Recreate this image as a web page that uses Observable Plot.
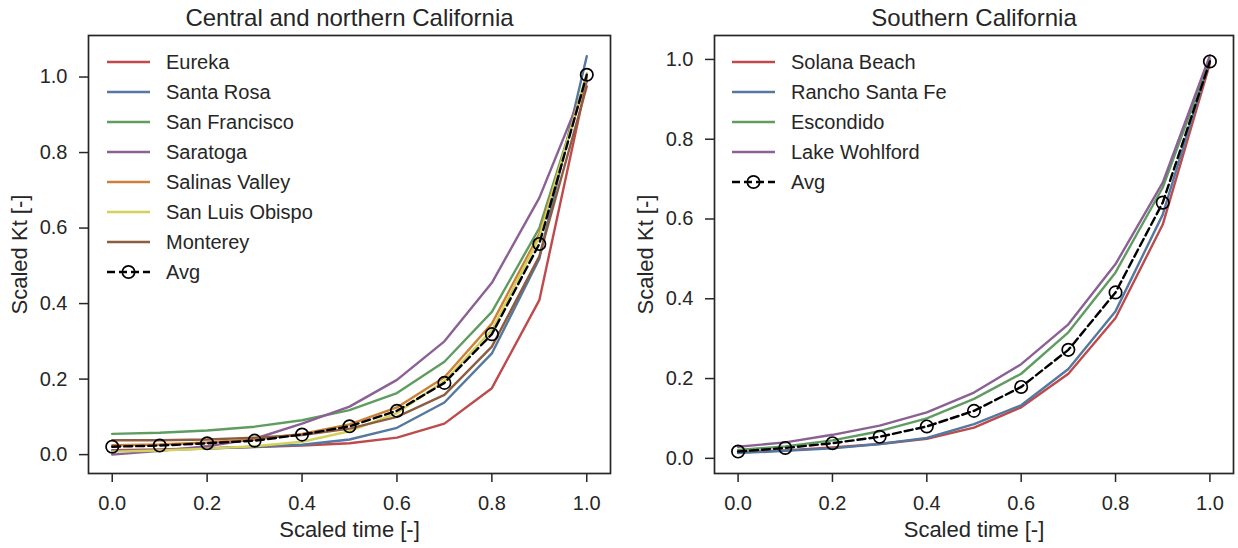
<!DOCTYPE html>
<html>
<head>
<meta charset="utf-8">
<script src="https://cdn.jsdelivr.net/npm/d3@7"></script>
<script src="https://cdn.jsdelivr.net/npm/@observablehq/plot@0.6"></script>
<style>
  body { margin: 0; background: #fff; }
  #wrap { position: relative; width: 1238px; height: 548px; display: flex; font-family: "Liberation Sans", Arial, sans-serif; color: #262626; }
  .panel { position: relative; width: 619px; height: 548px; }
  .legend { position: absolute; top: 47px; font-size: 20px; line-height: 30px; }
  .legend .row { display: flex; align-items: center; height: 30px; }
  .legend svg { display: block; margin-right: 15px; }
  [aria-label="x-axis label"], [aria-label="y-axis label"] { font-size: 22px; }
</style>
</head>
<body>
<div id="wrap">
  <div class="panel" id="p1"></div>
  <div class="panel" id="p2"></div>
</div>
<script>
// Scaled time samples
const scaledTime = [0, 0.1, 0.2, 0.3, 0.4, 0.5, 0.6, 0.7, 0.8, 0.9, 1.0];
const tickValues = [0, 0.2, 0.4, 0.6, 0.8, 1.0];

// Central and northern California
const northTitle = "Central and northern California";
const northNames = ["Eureka", "Santa Rosa", "San Francisco", "Saratoga", "Salinas Valley", "San Luis Obispo", "Monterey"];
const northColors = ["#bf4a4c", "#54789f", "#5f9c60", "#8b6094", "#cc8038", "#d3d15a", "#8d5d41"];
const eureka        = [0.012, 0.014, 0.017, 0.020, 0.024, 0.030, 0.045, 0.082, 0.176, 0.409, 0.990];
const santaRosa     = [0.010, 0.012, 0.016, 0.021, 0.026, 0.040, 0.071, 0.138, 0.268, 0.519, 1.055];
const sanFrancisco  = [0.055, 0.058, 0.064, 0.074, 0.091, 0.118, 0.163, 0.246, 0.378, 0.600, 1.000];
const saratoga      = [0.000, 0.010, 0.022, 0.042, 0.082, 0.127, 0.198, 0.300, 0.455, 0.680, 0.990];
const salinasValley = [0.025, 0.027, 0.032, 0.040, 0.055, 0.080, 0.125, 0.205, 0.347, 0.585, 1.000];
const sanLuisObispo = [0.008, 0.011, 0.016, 0.022, 0.034, 0.062, 0.110, 0.195, 0.330, 0.575, 1.010];
const monterey      = [0.038, 0.038, 0.040, 0.045, 0.052, 0.069, 0.100, 0.158, 0.286, 0.525, 0.975];
const northAvg      = [0.021, 0.024, 0.030, 0.037, 0.053, 0.075, 0.116, 0.190, 0.319, 0.558, 1.006];
const northSeries = [eureka, santaRosa, sanFrancisco, saratoga, salinasValley, sanLuisObispo, monterey];

// Southern California
const southTitle = "Southern California";
const southNames = ["Solana Beach", "Rancho Santa Fe", "Escondido", "Lake Wohlford"];
const southColors = ["#bf4a4c", "#54789f", "#5f9c60", "#8b6094"];
const solanaBeach   = [0.015, 0.020, 0.027, 0.036, 0.049, 0.077, 0.128, 0.212, 0.352, 0.586, 0.990];
const ranchoSantaFe = [0.013, 0.019, 0.025, 0.036, 0.051, 0.086, 0.133, 0.224, 0.369, 0.611, 1.000];
const escondido     = [0.021, 0.030, 0.045, 0.068, 0.100, 0.149, 0.212, 0.316, 0.466, 0.679, 1.000];
const lakeWohlford  = [0.029, 0.040, 0.059, 0.082, 0.115, 0.165, 0.236, 0.336, 0.487, 0.691, 1.010];
const southAvg      = [0.017, 0.026, 0.038, 0.054, 0.080, 0.119, 0.179, 0.272, 0.416, 0.641, 0.995];
const southSeries = [solanaBeach, ranchoSantaFe, escondido, lakeWohlford];

const avgLabel = "Avg";
const xLabel = "Scaled time [-]";
const yLabel = "Scaled Kt [-]";
const ink = "#262626";
const lineW = 2.4;
const dash = "8,4";

function makePanel({title, names, colors, series, avg, yDomain, marginLeft, marginRight}) {
  const rows = series.flatMap((vals, k) => vals.map((v, i) => ({t: scaledTime[i], v, name: names[k]})));
  const avgRows = avg.map((v, i) => ({t: scaledTime[i], v}));
  return Plot.plot({
    width: 619,
    height: 548,
    marginLeft,
    marginRight,
    marginTop: 35,
    marginBottom: 75,
    style: {fontFamily: '"Liberation Sans", Arial, sans-serif', color: ink, background: "white", overflow: "visible"},
    x: {domain: [-0.05, 1.05]},
    y: {domain: yDomain},
    color: {domain: names, range: colors},
    marks: [
      Plot.axisX({ticks: tickValues, tickFormat: d3.format(".1f"), tickSize: 9, tickPadding: 13, fontSize: 20,
        strokeWidth: 1.5, label: xLabel, labelAnchor: "center", labelArrow: "none", labelOffset: 63}),
      Plot.axisY({ticks: tickValues, tickFormat: d3.format(".1f"), tickSize: 9, tickPadding: 12, fontSize: 20,
        strokeWidth: 1.5, label: yLabel, labelAnchor: "center", labelArrow: "none", labelOffset: 77}),
      Plot.line(rows, {x: "t", y: "v", z: "name", stroke: "name", strokeWidth: lineW}),
      Plot.line(avgRows, {x: "t", y: "v", stroke: "black", strokeWidth: lineW, strokeDasharray: dash}),
      Plot.dot(avgRows, {x: "t", y: "v", r: 6.2, stroke: "black", strokeWidth: 1.7, fill: "none"}),
      Plot.frame({stroke: ink, strokeWidth: 1.7}),
      Plot.text([title], {text: d => d, frameAnchor: "top", dy: -17, fontSize: 24, lineAnchor: "middle", fill: ink})
    ]
  });
}

function makeLegend(names, colors, left) {
  const div = document.createElement("div");
  div.className = "legend";
  div.style.left = left + "px";
  const ns = "http://www.w3.org/2000/svg";
  const addRow = (label, color, isAvg) => {
    const row = document.createElement("div");
    row.className = "row";
    const svg = document.createElementNS(ns, "svg");
    svg.setAttribute("width", 44);
    svg.setAttribute("height", 20);
    const line = document.createElementNS(ns, "line");
    line.setAttribute("x1", 0); line.setAttribute("x2", 43);
    line.setAttribute("y1", 10); line.setAttribute("y2", 10);
    line.setAttribute("stroke", color);
    line.setAttribute("stroke-width", lineW);
    if (isAvg) line.setAttribute("stroke-dasharray", dash);
    svg.appendChild(line);
    if (isAvg) {
      const c = document.createElementNS(ns, "circle");
      c.setAttribute("cx", 21.5); c.setAttribute("cy", 10); c.setAttribute("r", 6.2);
      c.setAttribute("fill", "none"); c.setAttribute("stroke", "black"); c.setAttribute("stroke-width", 1.7);
      svg.appendChild(c);
    }
    row.appendChild(svg);
    const span = document.createElement("span");
    span.textContent = label;
    row.appendChild(span);
    div.appendChild(row);
  };
  names.forEach((n, i) => addRow(n, colors[i], false));
  addRow(avgLabel, "black", true);
  return div;
}

const p1 = document.getElementById("p1");
p1.appendChild(makePanel({title: northTitle, names: northNames, colors: northColors, series: northSeries,
  avg: northAvg, yDomain: [-0.050, 1.110], marginLeft: 88, marginRight: 9}));
p1.appendChild(makeLegend(northNames, northColors, 107));

const p2 = document.getElementById("p2");
p2.appendChild(makePanel({title: southTitle, names: southNames, colors: southColors, series: southSeries,
  avg: southAvg, yDomain: [-0.038, 1.060], marginLeft: 95, marginRight: 5}));
p2.appendChild(makeLegend(southNames, southColors, 113));
</script>
</body>
</html>
